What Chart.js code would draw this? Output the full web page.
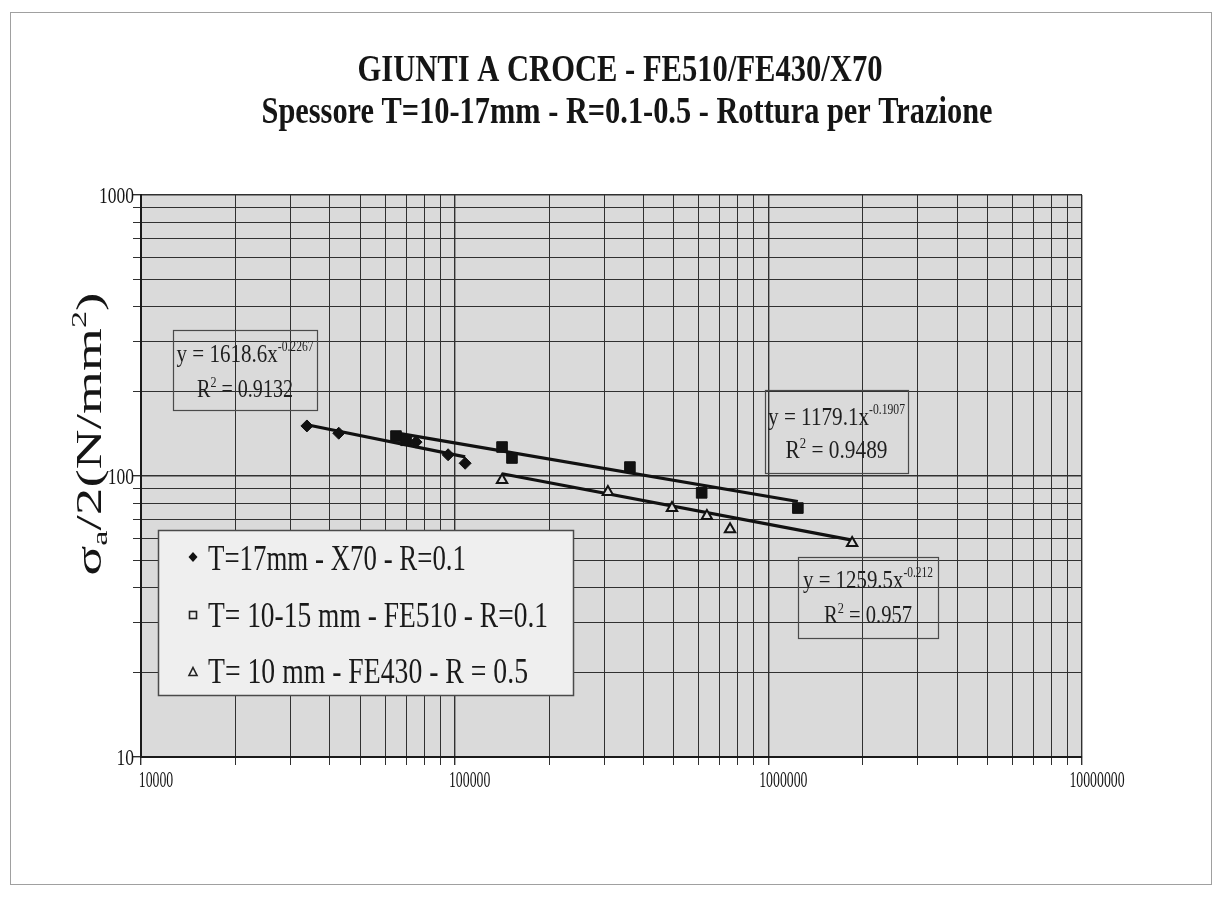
<!DOCTYPE html>
<html>
<head>
<meta charset="utf-8">
<script src="https://cdn.jsdelivr.net/npm/chart.js@4/dist/chart.umd.min.js"></script>
<style>
  html, body { margin: 0; padding: 0; background: #fff; }
  #wrap { width: 1224px; height: 897px; position: relative; }
</style>
</head>
<body>
<div id="wrap"><canvas id="c"></canvas></div>
<script>
// Cruciform welded joints: cycles to failure vs stress amplitude
const cyclesX70   = [33800, 42700, 75300, 95300, 108000];
const stressX70   = [150.7, 142, 132, 119, 111];
const cyclesFE510 = [65000, 70000, 141600, 152300, 362000, 613000, 1242000];
const stressFE510 = [138.7, 134, 126.8, 115.9, 107.6, 87.1, 76.9];
const cyclesFE430 = [141600, 308000, 493000, 637000, 755000, 1850000];
const stressFE430 = [96.8, 87.7, 76.9, 72.1, 64.7, 57.8];

const seriesNames = ['T=17mm - X70 - R=0.1', 'T= 10-15 mm - FE510 - R=0.1', 'T= 10 mm - FE430 - R = 0.5'];

// power-law fits y = a * x^b printed next to each line
const trendA  = [1618.6, 1179.1, 1259.5];
const trendB  = [-0.2267, -0.1907, -0.212];
const trendR2 = ['0.9132', '0.9489', '0.957'];

const xTickLabels = ['10000', '100000', '1000000', '10000000'];
const yTickLabels = ['10', '100', '1000'];

const titleLines = ['GIUNTI A CROCE - FE510/FE430/X70', 'Spessore T=10-17mm - R=0.1-0.5 - Rottura per Trazione'];

const FONT = '"Liberation Serif", "Times New Roman", serif';

const toPts = (xs, ys) => xs.map((x, i) => ({ x: x, y: ys[i] }));
const cyclesAll = [cyclesX70, cyclesFE510, cyclesFE430];
function trendLine(i) {
  const xs = cyclesAll[i];
  const x0 = Math.min(...xs), x1 = Math.max(...xs);
  return [x0, x1].map(x => ({ x: x, y: trendA[i] * Math.pow(x, trendB[i]) }));
}

function decadeTicks(lo, hi) {
  const out = [];
  for (let p = lo; p < hi; p++) for (let k = 1; k <= 9; k++) out.push({ value: k * Math.pow(10, p) });
  out.push({ value: Math.pow(10, hi) });
  return out;
}
const isDecade = v => Math.abs(Math.log10(v) - Math.round(Math.log10(v))) < 1e-9;

// text with optional sub/superscript parts, condensed horizontally
function rich(ctx, parts, x, y, size, o) {
  o = o || {};
  const weight = o.weight || 'normal';
  let total = 0;
  const ws = parts.map(p => {
    ctx.font = weight + ' ' + (size * (p.k || 1)) + 'px ' + FONT;
    const m = ctx.measureText(p.t).width;
    total += m;
    return m;
  });
  const sx = o.width ? o.width / total : (o.sx || 1);
  ctx.save();
  ctx.translate(x, y);
  if (o.rot) ctx.rotate(o.rot);
  ctx.scale(sx, o.sy || 1);
  ctx.fillStyle = o.color || '#151515';
  ctx.textAlign = 'left';
  ctx.textBaseline = 'alphabetic';
  let cx = o.align === 'center' ? -total / 2 : (o.align === 'right' ? -total : 0);
  parts.forEach((p, i) => {
    ctx.font = weight + ' ' + (size * (p.k || 1)) + 'px ' + FONT;
    ctx.fillText(p.t, cx, -(p.r || 0) * size);
    cx += ws[i];
  });
  ctx.restore();
}

const decorations = {
  id: 'decorations',
  beforeDraw(chart) {
    const { ctx, chartArea: a } = chart;
    ctx.save();
    ctx.fillStyle = '#ffffff';
    ctx.fillRect(0, 0, chart.width, chart.height);
    ctx.strokeStyle = '#a0a0a0';
    ctx.lineWidth = 1;
    ctx.strokeRect(10.5, 12.5, 1201, 872);
    ctx.fillStyle = '#dadada';
    ctx.fillRect(a.left, a.top, a.right - a.left, a.bottom - a.top);
    ctx.restore();
  },
  afterDraw(chart) {
    const { ctx, scales } = chart;
    const xs = scales.x, ys = scales.y;

    // titles
    rich(ctx, [{ t: titleLines[0] }], 620, 81, 37, { weight: 'bold', width: 525, align: 'center' });
    rich(ctx, [{ t: titleLines[1] }], 627, 123, 37, { weight: 'bold', width: 731, align: 'center' });

    // axis tick labels
    xTickLabels.forEach(s => {
      const px = xs.getPixelForValue(Number(s));
      rich(ctx, [{ t: s }], px + 15, 787, 23, { sx: 0.6, align: 'center' });
    });
    yTickLabels.forEach(s => {
      const py = ys.getPixelForValue(Number(s));
      rich(ctx, [{ t: s }], 134, py + 7.5, 23, { sx: 0.76, align: 'right' });
    });

    // y-axis title
    rich(ctx, [
      { t: 'σ' }, { t: 'a', k: 0.62, r: -0.18 }, { t: '/2(N/mm' }, { t: '2', k: 0.62, r: 0.42 }, { t: ')' }
    ], 101, 434, 35, { rot: -Math.PI / 2, width: 283, align: 'center' });

    // trend equations
    const boxes = [
      { x: 173, y: 330, w: 144, h: 80, l1: 137, b1: 362, l2: 96, b2: 397 },
      { x: 765, y: 390, w: 143, h: 83, l1: 137, b1: 425, l2: 102, b2: 458 },
      { x: 798, y: 557, w: 140, h: 81, l1: 130, b1: 588, l2: 88, b2: 623 }
    ];
    boxes.forEach((b, i) => {
      ctx.save();
      ctx.strokeStyle = '#4a4a4a';
      ctx.lineWidth = 1.2;
      ctx.strokeRect(b.x + 0.5, b.y + 0.5, b.w, b.h);
      ctx.restore();
      const cx = b.x + b.w / 2;
      rich(ctx, [{ t: 'y = ' + trendA[i] + 'x' }, { t: String(trendB[i]), k: 0.55, r: 0.42 }],
        cx, b.b1, 26, { width: b.l1, align: 'center', color: '#1e1e1e' });
      rich(ctx, [{ t: 'R' }, { t: '2', k: 0.6, r: 0.4 }, { t: ' = ' + trendR2[i] }],
        cx, b.b2, 26, { width: b.l2, align: 'center', color: '#1e1e1e' });
    });

    // legend
    const L = { x: 158, y: 530, w: 415, h: 165 };
    ctx.save();
    ctx.fillStyle = '#efefef';
    ctx.fillRect(L.x, L.y, L.w, L.h);
    ctx.strokeStyle = '#4a4a4a';
    ctx.lineWidth = 1.5;
    ctx.strokeRect(L.x + 0.5, L.y + 0.5, L.w, L.h);
    const mx = 193;
    const rowsY = [557, 615, 672];
    ctx.fillStyle = '#111';
    ctx.strokeStyle = '#222';
    // diamond
    ctx.beginPath();
    ctx.moveTo(mx, rowsY[0] - 5); ctx.lineTo(mx + 4.5, rowsY[0]); ctx.lineTo(mx, rowsY[0] + 5); ctx.lineTo(mx - 4.5, rowsY[0]);
    ctx.closePath(); ctx.fill();
    // open square
    ctx.lineWidth = 1.6;
    ctx.strokeRect(mx - 3.5, rowsY[1] - 3.5, 7, 7);
    // open triangle
    ctx.beginPath();
    ctx.moveTo(mx, rowsY[2] - 4.5); ctx.lineTo(mx + 4, rowsY[2] + 3.5); ctx.lineTo(mx - 4, rowsY[2] + 3.5);
    ctx.closePath(); ctx.stroke();
    ctx.restore();
    const widths = [258, 340, 320];
    const bases = [570, 627, 683];
    seriesNames.forEach((s, i) => rich(ctx, [{ t: s }], 208, bases[i], 36, { width: widths[i], color: '#1a1a1a' }));
  }
};

new Chart(document.getElementById('c'), {
  type: 'scatter',
  data: {
    datasets: [
      { label: seriesNames[0], data: toPts(cyclesX70, stressX70), pointStyle: 'rectRot', pointRadius: 6,
        backgroundColor: '#111', borderColor: '#111', borderWidth: 1 },
      { label: seriesNames[1], data: toPts(cyclesFE510, stressFE510), pointStyle: 'rect', pointRadius: 7.5,
        backgroundColor: '#111', borderColor: '#111', borderWidth: 1 },
      { label: seriesNames[2], data: toPts(cyclesFE430, stressFE430), pointStyle: 'triangle', pointRadius: 6,
        backgroundColor: '#dcdcdc', borderColor: '#111', borderWidth: 2 },
      { label: 'fit X70', data: trendLine(0), showLine: true, borderColor: '#111', borderWidth: 3.2, pointRadius: 0 },
      { label: 'fit FE510', data: trendLine(1), showLine: true, borderColor: '#111', borderWidth: 3.2, pointRadius: 0 },
      { label: 'fit FE430', data: trendLine(2), showLine: true, borderColor: '#111', borderWidth: 3.2, pointRadius: 0 }
    ]
  },
  options: {
    responsive: true,
    maintainAspectRatio: false,
    animation: false,
    layout: { padding: { left: 0, top: 195, right: 142, bottom: 0 } },
    plugins: { legend: { display: false }, title: { display: false }, tooltip: { enabled: false } },
    scales: {
      x: {
        type: 'logarithmic', min: 1e4, max: 1e7,
        afterBuildTicks: s => { s.ticks = decadeTicks(4, 7); },
        afterFit: s => { s.height = 140; },
        ticks: { display: false },
        grid: {
          color: '#303030',
          lineWidth: c => (c.tick && isDecade(c.tick.value) ? 1.4 : 1),
          drawTicks: true, tickLength: 8, tickColor: '#303030'
        },
        border: { display: true, color: '#1a1a1a', width: 2 }
      },
      y: {
        type: 'logarithmic', min: 10, max: 1000,
        afterBuildTicks: s => { s.ticks = decadeTicks(1, 3); },
        afterFit: s => { s.width = 141; },
        ticks: { display: false },
        grid: {
          color: '#303030',
          lineWidth: c => (c.tick && isDecade(c.tick.value) ? 1.4 : 1),
          drawTicks: true, tickLength: 8, tickColor: '#303030'
        },
        border: { display: true, color: '#1a1a1a', width: 2 }
      }
    }
  },
  plugins: [decorations]
});
</script>
</body>
</html>
